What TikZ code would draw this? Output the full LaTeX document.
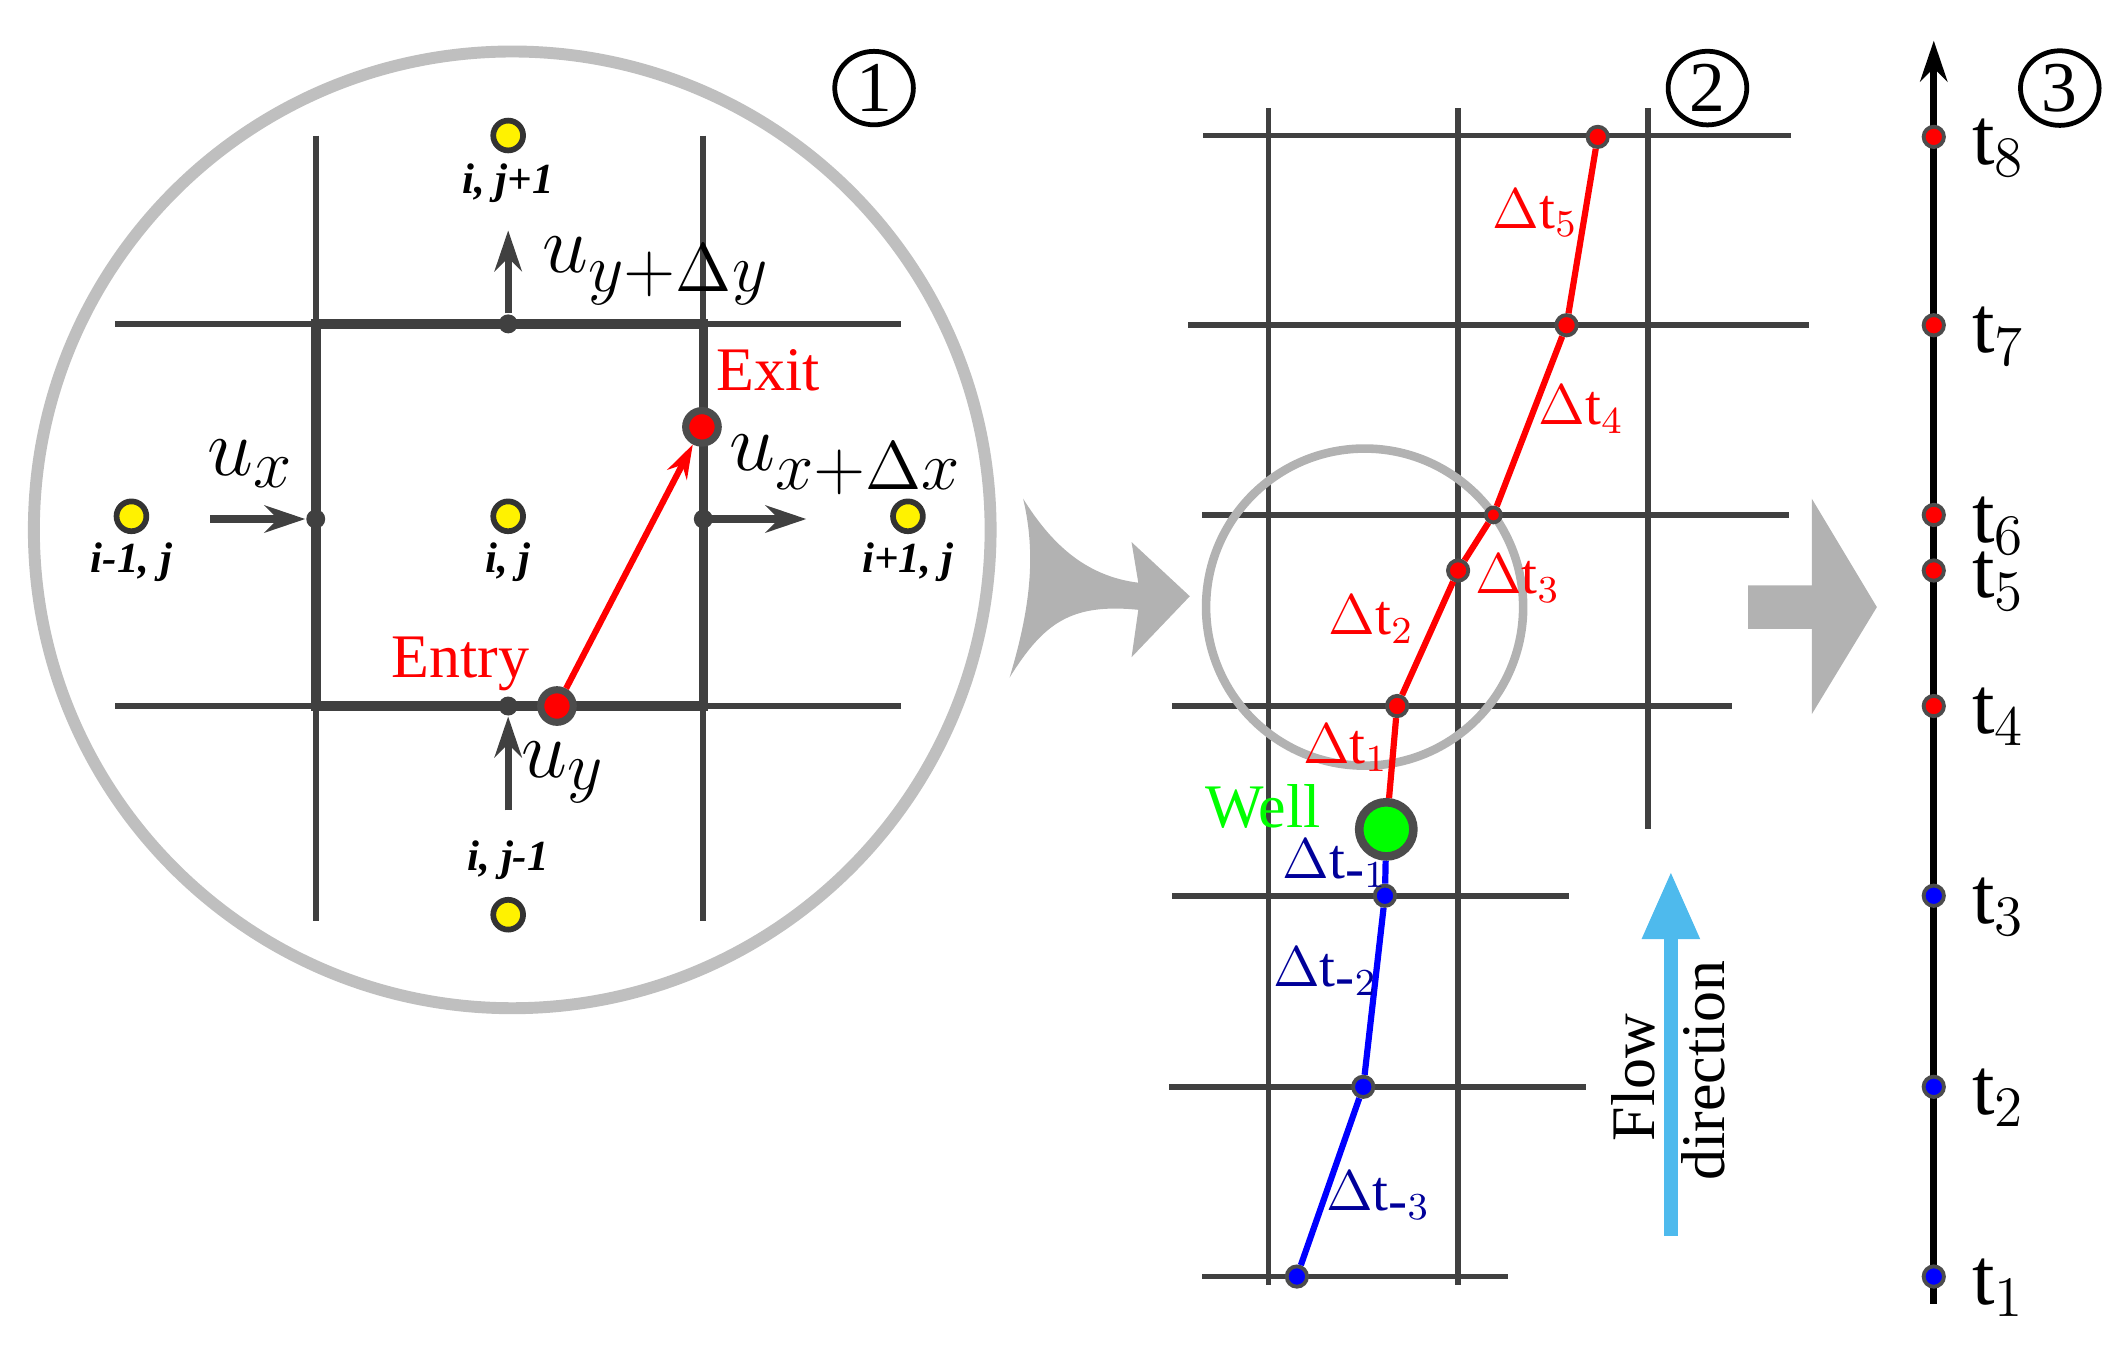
\documentclass[tikz,border=0pt]{standalone}
\usepackage{fontspec}
\setmainfont{Liberation Serif}
\usetikzlibrary{arrows.meta,shapes.geometric}
\begin{document}
\begin{tikzpicture}[x=0.01cm,y=-0.01cm,
 grid/.style={draw=black!75,line width=1.2pt},
 thick box/.style={draw=black!75,line width=2pt},
 yd/.style={circle,fill=yellow,draw=black!80,line width=1.2pt,minimum size=0.22cm,inner sep=0},
 bd/.style={circle,fill=black!75,minimum size=0.14cm,inner sep=0},
 rd/.style={circle,fill=red,draw=black!70,line width=0.8pt,minimum size=0.15cm,inner sep=0},
 bld/.style={circle,fill=blue,draw=black!70,line width=0.8pt,minimum size=0.15cm,inner sep=0},
 big/.style={circle,fill=red,draw=black!70,line width=1.5pt,minimum size=0.24cm,inner sep=0},
 ij/.style={font=\bfseries\itshape\fontsize{9}{9}\selectfont},
 uarr/.style={-{Stealth[length=0.3cm,width=0.2cm]},draw=black!75,line width=1.5pt},
 ul/.style={font=\fontsize{19}{19}\selectfont},
 num/.style={ellipse,draw,line width=1pt,inner sep=0.5pt,minimum width=0.58cm,minimum height=0.5cm,font=\fontsize{15}{15}\selectfont},
 dl/.style={font=\fontsize{12}{12}\selectfont},
 tl/.style={font=\fontsize{17}{17}\selectfont,anchor=west}]
\useasboundingbox (0,0) rectangle (1560,1000);
% ---------- panel 1
\draw[black!25,line width=2.5pt] (378,391) circle[radius=353];
\node[num] (n1) at (645,65) {1};
\foreach \x in {233,519} \draw[grid] (\x,100) -- (\x,680);
\foreach \y in {239,521} \draw[grid] (85,\y) -- (665,\y);
\draw[thick box] (233,239) rectangle (519,521);
\node[yd] (c1) at (375,100) {}; \node[ij] at (375,135) {i, j+1};
\node[yd] (c2) at (97,381) {}; \node[ij] at (97,415) {i-1, j};
\node[yd] (c3) at (375,381) {}; \node[ij] at (375,415) {i, j};
\node[yd] (c4) at (670,381) {}; \node[ij] at (670,415) {i+1, j};
\node[yd] (c5) at (375,675) {}; \node[ij] at (375,635) {i, j-1};
\node[bd] (ft) at (375,239) {};
\node[bd] (fl) at (233,383) {};
\node[bd] (fr) at (519,383) {};
\node[bd] (fb) at (375,521) {};
\coordinate (at) at (375,170); \coordinate (al) at (155,383);
\coordinate (ar) at (595,383); \coordinate (ab) at (375,598);
\draw[uarr] (ft) -- (at);
\draw[uarr] (al) -- (fl);
\draw[uarr] (fr.center) -- (ar);
\draw[uarr] (ab) -- (fb);
\node[ul,anchor=west] at (388,200) {$u_{y+\Delta y}$};
\node[ul] at (185,342) {$u_{x}$};
\node[ul,anchor=west] at (526,343) {$u_{x+\Delta x}$};
\node[ul] at (416,570) {$u_{y}$};
\node[big] (en) at (411,521) {};
\node[big] (ex) at (518,315) {};
\draw[red,line width=1.3pt,-{Stealth[length=0.25cm,width=0.16cm]}] (en) -- (ex);
\node[red,font=\fontsize{13}{13}\selectfont] at (340,490) {Entry};
\node[red,font=\fontsize{13}{13}\selectfont] at (567,273) {Exit};
% curved gray arrow
\fill[black!30] (745,500) .. controls (770,460) and (790,445) .. (840,450) -- (835,485) -- (878,440) -- (835,400) -- (840,430) .. controls (800,425) and (775,400) .. (755,368) .. controls (765,410) and (760,450) .. (745,500) -- cycle;
% ---------- panel 2
\node[num] (n2) at (1260,65) {2};
\foreach \x in {936,1076} \draw[grid] (\x,80) -- (\x,948);
\draw[grid] (1216,80) -- (1216,612);
\draw[grid] (888,100) -- (1322,100);
\draw[grid] (877,240) -- (1335,240);
\draw[grid] (887,380) -- (1320,380);
\draw[grid] (865,521) -- (1278,521);
\draw[grid] (865,661) -- (1158,661);
\draw[grid] (863,802) -- (1170,802);
\draw[grid] (887,942) -- (1113,942);
\draw[black!30,line width=1.8pt] (1007,448) circle[radius=117];
\node[bld] (p1) at (957,942) {};
\node[bld] (p2) at (1006,802) {};
\node[bld] (p3) at (1022,661) {};
\node[circle,fill=green,draw=black!70,line width=1.8pt,minimum size=0.4cm,inner sep=0] (w) at (1023,612) {};
\node[rd] (p4) at (1031,521) {};
\node[rd] (p5) at (1076,421) {};
\node[rd,minimum size=0.11cm] (p6) at (1102,380) {};
\node[rd] (p7) at (1156,240) {};
\node[rd] (p8) at (1179,101) {};
\draw[blue,line width=1.3pt] (p1) -- (p2) -- (p3) -- (w);
\draw[red,line width=1.3pt] (w) -- (p4) -- (p5) -- (p6) -- (p7) -- (p8);
\node[red,dl] at (1133,157) {$\Delta$t$_5$};
\node[red,dl] at (1167,302) {$\Delta$t$_4$};
\node[red,dl] at (1120,427) {$\Delta$t$_3$};
\node[red,dl] at (1012,457) {$\Delta$t$_2$};
\node[red,dl] at (993,552) {$\Delta$t$_1$};
\node[green,font=\fontsize{13}{13}\selectfont] at (932,595) {Well};
\node[blue!60!black,dl] at (985,637) {$\Delta$t$_{\mbox{-}1}$};
\node[blue!60!black,dl] at (978,717) {$\Delta$t$_{\mbox{-}2}$};
\node[blue!60!black,dl] at (1017,882) {$\Delta$t$_{\mbox{-}3}$};
\coordinate (fa) at (1233,912); \coordinate (fb2) at (1233,643);
\draw[cyan!90!blue!70,line width=3pt,-{Triangle[length=0.5cm,width=0.4cm]}] (fa) -- (fb2);
\node[rotate=90,font=\fontsize{13}{13}\selectfont] at (1205,795) {Flow};
\node[rotate=90,font=\fontsize{13}{13}\selectfont] at (1257,790) {direction};
% block arrow
\fill[black!30] (1290,432) -- (1337,432) -- (1337,368) -- (1385,448) -- (1337,527) -- (1337,464) -- (1290,464) -- cycle;
% ---------- panel 3
\node[num] (n3) at (1520,65) {3};
\coordinate (ta) at (1427,962); \coordinate (tb) at (1427,30);
\draw[line width=1.5pt,-{Stealth[length=0.3cm,width=0.2cm]}] (ta) -- (tb);
\foreach \y/\n in {101/8,240/7,380/6,421/5,521/4} {
 \node[rd] (t\n) at (1427,\y) {};
 \node[tl] at (1443,\y+8) {t$_{\n}$};}
\foreach \y/\n in {661/3,802/2,942/1} {
 \node[bld] (t\n) at (1427,\y) {};
 \node[tl] at (1443,\y+8) {t$_{\n}$};}
\end{tikzpicture}
\end{document}
